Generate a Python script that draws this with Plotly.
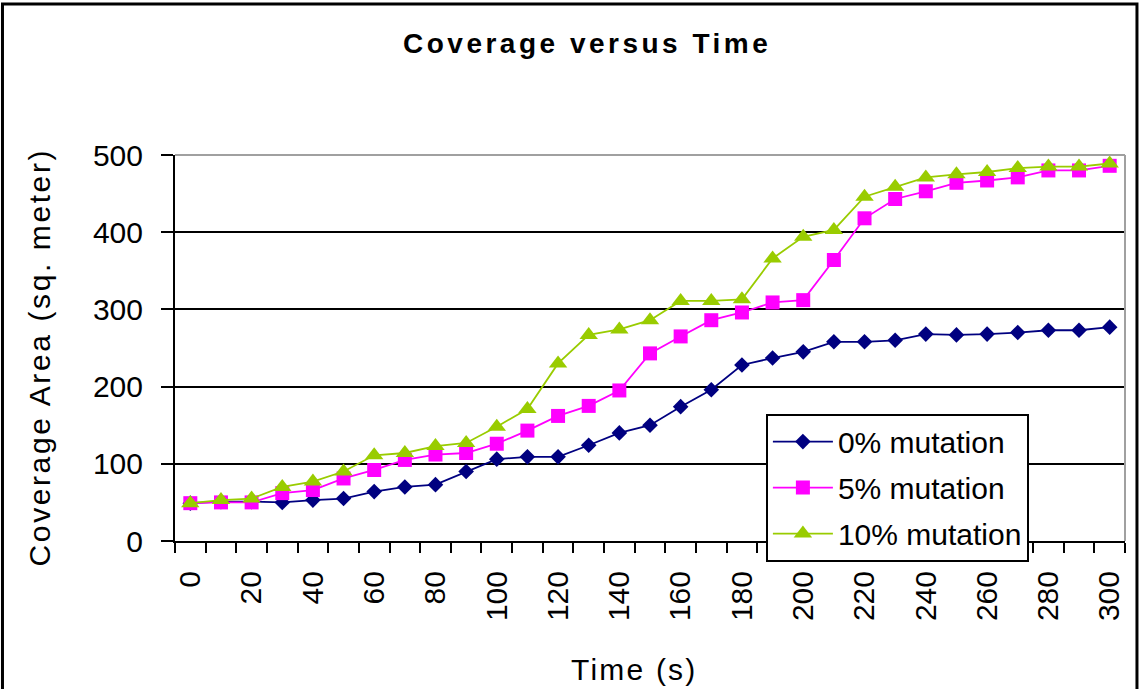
import plotly.graph_objects as go

# Sampling times (s) and coverage area (sq. meter) for each mutation rate
time_s = list(range(0, 301, 10))
mutation_0 = [49, 51, 51, 50, 53, 55, 64, 70, 73, 90, 106, 109, 109, 124, 140, 150,
              174, 196, 228, 237, 245, 258, 258, 260, 268, 267, 268, 270, 273, 273, 277]
mutation_5 = [49, 50, 50, 62, 66, 81, 92, 105, 112, 114, 126, 143, 162, 175, 195, 243,
              265, 286, 296, 309, 312, 364, 418, 443, 453, 464, 467, 471, 480, 480, 486]
mutation_10 = [49, 53, 55, 70, 77, 90, 111, 114, 123, 127, 148, 171, 230, 267, 274, 286,
               311, 311, 313, 366, 394, 403, 446, 459, 471, 475, 478, 483, 485, 485, 489]

series_names = ["0% mutation", "5% mutation", "10% mutation"]
x_tick_labels = [str(t) for t in range(0, 301, 20)]
y_tick_values = [0, 100, 200, 300, 400, 500]

FONT = "Liberation Sans, Arial, Helvetica, sans-serif"

fig = go.Figure()

styles = [
    dict(color="#000080", symbol="diamond", size=12),
    dict(color="#FF00FF", symbol="square", size=14),
    dict(color="#99CC00", symbol="triangle-up", size=16),
]
for name, values, st in zip(series_names, [mutation_0, mutation_5, mutation_10], styles):
    fig.add_trace(go.Scatter(
        x=time_s, y=values, name=name, mode="lines+markers",
        legendgroup=name,
        line=dict(color=st["color"], width=1.8),
        marker=dict(color=st["color"], symbol=st["symbol"], size=st["size"],
                    line=dict(width=0)),
    ))

fig.update_layout(
    width=1140, height=689, autosize=False,
    margin=dict(l=175, r=15, t=155, b=148),
    paper_bgcolor="white", plot_bgcolor="white",
    font=dict(family=FONT, color="black", size=30),
    showlegend=True,
    legend=dict(
        x=0.622, y=0.33, xanchor="left", yanchor="top",
        bgcolor="white", bordercolor="black", borderwidth=2,
        font=dict(family=FONT, size=30, color="black"),
        itemwidth=60, tracegroupgap=4,
    ),
)

fig.update_xaxes(
    range=[-5, 305],
    tickmode="array", tickvals=[int(v) for v in x_tick_labels], ticktext=x_tick_labels,
    tickangle=-90, ticks="", ticklabelstandoff=16,
    tickfont=dict(family=FONT, size=30, color="black"),
    minor=dict(ticks="outside", tick0=-5, dtick=10, ticklen=10, tickwidth=1.5,
               tickcolor="black", showgrid=False),
    showline=True, linecolor="black", linewidth=2,
    showgrid=False, zeroline=False,
)
fig.update_yaxes(
    range=[0, 500],
    tickmode="array", tickvals=y_tick_values,
    ticks="outside", ticklen=12, tickwidth=1.5, tickcolor="black",
    ticklabelstandoff=12,
    tickfont=dict(family=FONT, size=30, color="black"),
    showline=True, linecolor="black", linewidth=2,
    showgrid=True, gridcolor="black", gridwidth=1.5, zeroline=False,
)

# Plot-area frame on the top and right sides
fig.add_shape(type="line", xref="paper", yref="paper", x0=0, x1=1, y0=1, y1=1,
              line=dict(color="#A0A0A0", width=2), layer="above")
fig.add_shape(type="line", xref="paper", yref="paper", x0=1, x1=1, y0=0, y1=1,
              line=dict(color="#A0A0A0", width=2), layer="above")

# Outer chart frame
fig.add_shape(type="rect", xref="paper", yref="paper",
              x0=-0.1816, x1=1.0126, y0=-0.45, y1=1.391,
              line=dict(color="black", width=3), fillcolor="rgba(0,0,0,0)",
              layer="above")

# Chart and axis titles
fig.add_annotation(
    text='<span style="letter-spacing:3.5px">Coverage versus Time</span>',
    xref="paper", yref="paper", x=0.4337, y=1.290,
    xanchor="center", yanchor="middle", showarrow=False,
    font=dict(family=FONT, size=28, color="black", weight="bold"),
)
fig.add_annotation(
    text='<span style="letter-spacing:2.2px">Time (s)</span>',
    xref="paper", yref="paper", x=0.483, y=-0.333,
    xanchor="center", yanchor="middle", showarrow=False,
    font=dict(family=FONT, size=30, color="black"),
)
fig.add_annotation(
    text='<span style="letter-spacing:2.6px">Coverage Area (sq. meter)</span>',
    xref="paper", yref="paper", x=-0.143, y=0.476,
    xanchor="center", yanchor="middle", showarrow=False, textangle=-90,
    font=dict(family=FONT, size=30, color="black"),
)

fig.write_html("out.html")
